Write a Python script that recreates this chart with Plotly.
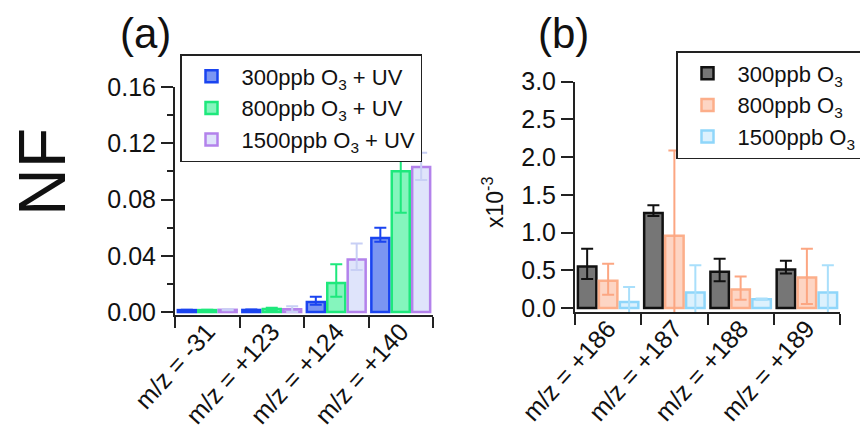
import plotly.graph_objects as go

# the page body has an 8px margin, so the figure is laid out in a shifted frame
OFF = 8
W, H = 868 - OFF, 434 - OFF
FONT = "Liberation Sans, Arial, sans-serif"


def px(x):
    return (x - OFF) / W


def py(y):
    return 1 - (y - OFF) / H


# ---------------- data: panel (a) ----------------
cats_a = ["m/z = -31", "m/z = +123", "m/z = +124", "m/z = +140"]
names_a = ["300ppb O<sub>3</sub> + UV", "800ppb O<sub>3</sub> + UV", "1500ppb O<sub>3</sub> + UV"]
vals_a_300 = [0.0014, 0.0015, 0.0072, 0.0527]
up_a_300 = [0.0003, 0.0003, 0.0037, 0.0073]
dn_a_300 = [0.0003, 0.0003, 0.0020, 0.0027]
vals_a_800 = [0.0014, 0.0022, 0.0207, 0.1001]
up_a_800 = [0.0003, 0.0008, 0.0132, 0.0300]
dn_a_800 = [0.0003, 0.0008, 0.0098, 0.0295]
vals_a_1500 = [0.0016, 0.0020, 0.0373, 0.1032]
up_a_1500 = [0.0004, 0.0022, 0.0115, 0.0100]
dn_a_1500 = [0.0004, 0.0020, 0.0074, 0.0093]

# ---------------- data: panel (b) (x10^-3) ----------------
cats_b = ["m/z = +186", "m/z = +187", "m/z = +188", "m/z = +189"]
names_b = ["300ppb O<sub>3</sub>", "800ppb O<sub>3</sub>", "1500ppb O<sub>3</sub>"]
vals_b_300 = [0.549, 1.258, 0.479, 0.510]
up_b_300 = [0.237, 0.104, 0.175, 0.118]
dn_b_300 = [0.165, 0.040, 0.126, 0.054]
vals_b_800 = [0.360, 0.957, 0.244, 0.403]
up_b_800 = [0.228, 1.130, 0.175, 0.383]
dn_b_800 = [0.183, 1.130, 0.134, 0.351]
vals_b_1500 = [0.081, 0.205, 0.117, 0.205]
up_b_1500 = [0.197, 0.361, 0.010, 0.361]
dn_b_1500 = [0.197, 0.361, 0.010, 0.361]

# styles
sty_a = [
    dict(fill="#7b96f2", line="#1a44f0", err="#1a44f0"),
    dict(fill="#85f5bd", line="#1ee87c", err="#1ee87c"),
    dict(fill="#dfe4fb", line="#b382eb", err="#c8cff5"),
]
sty_b = [
    dict(fill="#767676", line="#111111", err="#111111"),
    dict(fill="#fdd5c4", line="#fcae8a", err="#fca682"),
    dict(fill="#dcf1fd", line="#8fd6fa", err="#a9dffb"),
]

fig = go.Figure()

series_a = [(vals_a_300, up_a_300, dn_a_300), (vals_a_800, up_a_800, dn_a_800),
            (vals_a_1500, up_a_1500, dn_a_1500)]
for (v, u, d), nm, s in zip(series_a, names_a, sty_a):
    fig.add_trace(go.Bar(
        x=cats_a, y=v, name=nm, xaxis="x", yaxis="y", legend="legend",
        marker=dict(color=s["fill"], line=dict(color=s["line"], width=2.5)),
        error_y=dict(type="data", symmetric=False, array=u, arrayminus=d,
                     color=s["err"], thickness=2, width=6),
    ))

series_b = [(vals_b_300, up_b_300, dn_b_300), (vals_b_800, up_b_800, dn_b_800),
            (vals_b_1500, up_b_1500, dn_b_1500)]
for (v, u, d), nm, s in zip(series_b, names_b, sty_b):
    fig.add_trace(go.Bar(
        x=cats_b, y=v, name=nm, xaxis="x2", yaxis="y2", legend="legend2",
        marker=dict(color=s["fill"], line=dict(color=s["line"], width=2.5)),
        error_y=dict(type="data", symmetric=False, array=u, arrayminus=d,
                     color=s["err"], thickness=2, width=6),
    ))

axcol = "#222222"
xcommon = dict(type="category", tickson="boundaries", ticks="outside", ticklen=11,
               tickwidth=2, tickcolor=axcol, showline=True, linewidth=2, linecolor=axcol,
               tickangle=-48, tickfont=dict(size=25, family=FONT, color="#111"),
               ticklabelstandoff=-10,
               showgrid=False, zeroline=False, range=[-0.5, 3.5], automargin=False)
ycommon = dict(ticks="outside", ticklen=12, tickwidth=2, tickcolor=axcol, showline=True,
               linewidth=2, linecolor=axcol, showgrid=False, zeroline=False, automargin=False,
               tickfont=dict(size=25, family=FONT, color="#111"))
legcommon = dict(xanchor="left", yanchor="top", bordercolor=axcol, borderwidth=1.5,
                 bgcolor="white", font=dict(size=22, family=FONT, color="#111"),
                 traceorder="normal", itemwidth=50)

fig.update_layout(
    template="none",
    width=W, height=H, autosize=False,
    margin=dict(l=0, r=0, t=0, b=0, autoexpand=False),
    paper_bgcolor="white", plot_bgcolor="white",
    barmode="group", bargap=0.05, bargroupgap=0.12,
    font=dict(family=FONT, color="#111"),
    xaxis=dict(domain=[px(175), px(433)], anchor="y", **xcommon),
    yaxis=dict(domain=[py(315), py(87)], anchor="x", range=[-0.0021, 0.16],
               tick0=0, dtick=0.04, tickformat=".2f",
               minor=dict(ticks="outside", ticklen=6, tickwidth=2, tickcolor=axcol, dtick=0.02),
               **ycommon),
    xaxis2=dict(domain=[px(575), px(840)], anchor="y2", **xcommon),
    yaxis2=dict(domain=[py(312), py(81.7)], anchor="x2", range=[-0.053, 3.0],
                tick0=0, dtick=0.5, tickformat=".1f", **ycommon),
    legend=dict(x=px(180), y=py(54), **legcommon),
    legend2=dict(x=px(676), y=py(51), **legcommon),
    annotations=[
        dict(text="(a)", x=px(145), y=py(34), xref="paper", yref="paper",
             xanchor="center", yanchor="middle",
             showarrow=False, font=dict(size=42, family=FONT, color="#111")),
        dict(text="(b)", x=px(563), y=py(34), xref="paper", yref="paper",
             xanchor="center", yanchor="middle",
             showarrow=False, font=dict(size=42, family=FONT, color="#111")),
        dict(text="NF", x=px(42), y=py(172), xref="paper", yref="paper",
             xanchor="center", yanchor="middle",
             showarrow=False, textangle=-90, font=dict(size=66, family=FONT, color="#111")),
        dict(text="x10<sup>-3</sup>", x=px(493), y=py(203), xref="paper", yref="paper",
             xanchor="center", yanchor="middle",
             showarrow=False, textangle=-90, font=dict(size=23, family=FONT, color="#111")),
    ],
)

fig.write_html("out.html")
